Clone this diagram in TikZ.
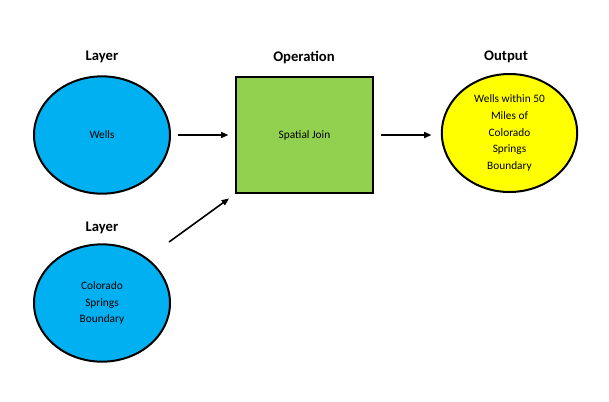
\documentclass[tikz,border=0pt]{standalone}
\usepackage{fontspec}
\setmainfont{Carlito}
\usetikzlibrary{shapes.geometric,arrows.meta}

\tikzset{every picture/.style={line width=0.75pt}}
\definecolor{layerblue}{RGB}{0,176,240}
\definecolor{opgreen}{RGB}{146,208,80}
\definecolor{outyellow}{RGB}{255,255,0}
\tikzset{
  layerdisc/.style={ellipse, draw, line width=1.5, fill=layerblue, minimum width=102pt, minimum height=88pt, inner sep=0pt},
  outdisc/.style={ellipse, draw, line width=1.5, fill=outyellow, minimum width=101.5pt, minimum height=88.5pt, inner sep=0pt},
  opbox/.style={rectangle, draw, line width=1.5, fill=opgreen, minimum width=102.75pt, minimum height=87pt, inner sep=0pt},
  heading/.style={inner sep=0.75pt, font=\fontsize{11}{13}\selectfont\bfseries},
  inner/.style={align=center, font=\fontsize{8.5}{12.4}\selectfont},
  flow/.style={-{Triangle[length=5.5pt,width=4.5pt]}, line width=1.2},
}

\begin{document}
\begin{tikzpicture}[x=0.75pt,y=0.75pt,yscale=-1,xscale=1]
            \useasboundingbox (0,0) rectangle (609,401);

            %Shape: Ellipse [id:wells] 
            \node [layerdisc] (wells) at (102,135) {};
            %Shape: Ellipse [id:boundary] 
            \node [layerdisc] (boundary) at (102,303) {};
            %Shape: Rectangle [id:join] 
            \node [opbox] (join) at (304.5,135) {};
            %Shape: Ellipse [id:result] 
            \node [outdisc] (result) at (509.5,133) {};

            % Text Node
            \node [inner] at (wells) {Wells};
            % Text Node
            \node [inner] at (boundary) {Colorado\\Springs\\Boundary};
            % Text Node
            \node [inner] at (join) {Spatial Join};
            % Text Node
            \node [inner] at (result) {Wells within 50\\Miles of\\Colorado\\Springs\\Boundary};

            % Text Node
            \node [heading] (wellshead) at (102,57) {Layer};
            % Text Node
            \node [heading] (boundaryhead) at (102,228) {Layer};
            % Text Node
            \node [heading] (joinhead) at (304,57) {Operation};
            % Text Node
            \node [heading] (resulthead) at (506,57) {Output};

            %Straight Lines [id:wellsjoin] 
            \draw [flow, shorten <=5.25pt, shorten >=5pt] (wells.east) -- (join.west |- wells.east) ;
            %Straight Lines [id:joinresult] 
            \draw [flow, shorten <=5.25pt, shorten >=7pt] (join.east) -- (result.west |- join.east) ;
            %Straight Lines [id:boundaryjoin] 
            \coordinate (boundaryout) at (169,242);
            \coordinate (joinin) at (229,198.5);
            \draw [flow] (boundaryout) -- (joinin) ;

        \end{tikzpicture}
\end{document}
